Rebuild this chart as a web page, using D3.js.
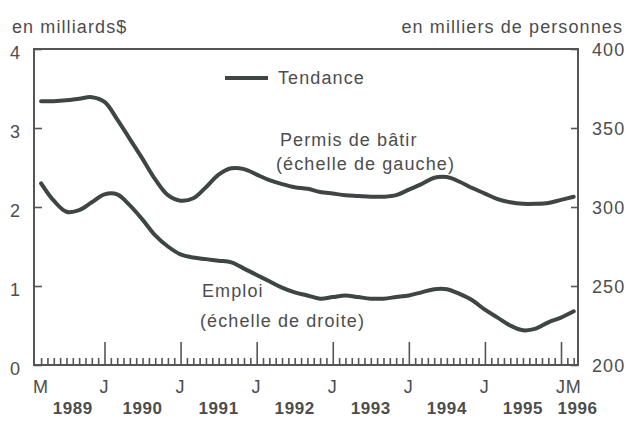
<!DOCTYPE html>
<html>
<head>
<meta charset="utf-8">
<script src="https://cdn.jsdelivr.net/npm/d3@7"></script>
<style>
  body { margin: 0; background: #fff; }
  svg { display: block; font-family: "Liberation Sans", Arial, sans-serif; }
  .lbl { fill: #4d4d4d; font-size: 18px; letter-spacing: 1.1px; }
</style>
</head>
<body>
<div id="chart"></div>
<script>
// months read every two months, March 1989 to March 1996
const months = [
    "1989-03", "1989-05", "1989-07", "1989-09", "1989-11",
    "1990-01", "1990-03", "1990-05", "1990-07", "1990-09", "1990-11",
    "1991-01", "1991-03", "1991-05", "1991-07", "1991-09", "1991-11",
    "1992-01", "1992-03", "1992-05", "1992-07", "1992-09", "1992-11",
    "1993-01", "1993-03", "1993-05", "1993-07", "1993-09", "1993-11",
    "1994-01", "1994-03", "1994-05", "1994-07", "1994-09", "1994-11",
    "1995-01", "1995-03", "1995-05", "1995-07", "1995-09", "1995-11",
    "1996-01", "1996-03"
];

// Permis de bâtir, en milliards $ (left scale)
const permis = [
    3.34, 3.34, 3.35, 3.37, 3.39,
    3.33, 3.11, 2.86, 2.61, 2.35, 2.15,
    2.08, 2.11, 2.25, 2.41, 2.49, 2.48,
    2.41, 2.34, 2.29, 2.25, 2.23, 2.19,
    2.17, 2.15, 2.14, 2.13, 2.13, 2.15,
    2.22, 2.29, 2.37, 2.38, 2.32, 2.24,
    2.17, 2.10, 2.06, 2.04, 2.04, 2.05,
    2.09, 2.13
];

// Emploi, en milliers de personnes (right scale)
const emploi = [
    315, 304, 297, 298, 303,
    308, 308, 301, 292, 282, 275,
    270, 268, 267, 266, 265, 261,
    257, 253, 249, 246, 244, 242,
    243, 244, 243, 242, 242, 243,
    244, 246, 248, 248, 245, 241,
    235, 230, 225, 222, 223, 227,
    230, 234
];

const monthLabels = [
    { m: "1989-03", t: "M" }, { m: "1990-01", t: "J" }, { m: "1991-01", t: "J" },
    { m: "1992-01", t: "J" }, { m: "1993-01", t: "J" }, { m: "1994-01", t: "J" },
    { m: "1995-01", t: "J" }, { m: "1996-01", t: "J" }, { m: "1996-03", t: "M" }
];
const yearLabels = ["1989", "1990", "1991", "1992", "1993", "1994", "1995", "1996"];
const yearPos = [7, 18, 30, 42, 54, 66, 78, 86.6];   // month index of each year label
const leftTicks = [0, 1, 2, 3, 4];
const rightTicks = [200, 250, 300, 350, 400];

const W = 628, H = 421;
const L = 34, R = 578, T = 49, B = 365;

// month index counted from January 1989 = 0
function mIdx(s) {
    const [y, m] = s.split("-").map(Number);
    return (y - 1989) * 12 + (m - 1);
}

const x = d3.scaleLinear().domain([0.88, 86.68]).range([L, R]);
const yL = d3.scaleLinear().domain([0, 4]).range([B, T]);
const yR = d3.scaleLinear().domain([200, 400]).range([B, T]);

const svg = d3.select("#chart").append("svg")
    .attr("width", W)
    .attr("height", H);

const axisColor = "#555";
const lineColor = "#3d4644";

// frame
svg.append("rect")
    .attr("x", L).attr("y", T)
    .attr("width", R - L).attr("height", B - T)
    .attr("fill", "none")
    .attr("stroke", axisColor)
    .attr("stroke-width", 2);

// bottom ticks, monthly small and January long
const allMonths = d3.range(2, 87);
const minor = allMonths.filter(i => i % 12 !== 0);
const major = allMonths.filter(i => i % 12 === 0);

function styleAxis(g) {
    g.select(".domain").remove();
    g.selectAll(".tick line").attr("stroke", axisColor).attr("stroke-width", 1.6);
}

svg.append("g")
    .attr("transform", `translate(0,${B})`)
    .call(d3.axisBottom(x).tickValues(minor).tickSize(-7).tickFormat(""))
    .call(styleAxis);

svg.append("g")
    .attr("transform", `translate(0,${B})`)
    .call(d3.axisBottom(x).tickValues(major).tickSize(-23).tickFormat(""))
    .call(styleAxis);

// month letters
svg.append("g")
    .selectAll("text")
    .data(monthLabels)
    .join("text")
    .attr("class", "lbl")
    .attr("x", d => x(mIdx(d.m)))
    .attr("y", 393)
    .attr("text-anchor", "middle")
    .text(d => d.t);

// years
svg.append("g")
    .selectAll("text")
    .data(yearLabels)
    .join("text")
    .attr("class", "lbl")
    .attr("x", (d, i) => x(yearPos[i]))
    .attr("y", 414)
    .attr("text-anchor", "middle")
    .attr("font-weight", "bold")
    .style("font-size", "17px")
    .style("letter-spacing", "0.6px")
    .text(d => d);

// left axis
const gL = svg.append("g")
    .attr("transform", `translate(${L},0)`)
    .call(d3.axisLeft(yL).tickValues(leftTicks).tickSize(-8).tickPadding(13).tickFormat(d3.format("d")))
    .call(styleAxis);
gL.selectAll(".tick text")
    .attr("class", "lbl")
    .attr("dy", "0.5em")
    .attr("font-family", null)
    .attr("font-size", null);

// right axis
const gR = svg.append("g")
    .attr("transform", `translate(${R},0)`)
    .call(d3.axisRight(yR).tickValues(rightTicks).tickSize(-7).tickPadding(14).tickFormat(d3.format("d")))
    .call(styleAxis);
gR.selectAll(".tick text")
    .attr("class", "lbl")
    .attr("dy", "0.35em")
    .attr("font-family", null)
    .attr("font-size", null);

// axis titles
svg.append("text").attr("class", "lbl")
    .attr("x", 12).attr("y", 33)
    .text("en milliards$");
svg.append("text").attr("class", "lbl")
    .attr("x", 623).attr("y", 33)
    .attr("text-anchor", "end")
    .text("en milliers de personnes");

// series
const idx = months.map(mIdx);

const linePermis = d3.line()
    .x((d, i) => x(idx[i]))
    .y(d => yL(d))
    .curve(d3.curveCatmullRom);

const lineEmploi = d3.line()
    .x((d, i) => x(idx[i]))
    .y(d => yR(d))
    .curve(d3.curveCatmullRom);

svg.append("path")
    .datum(permis)
    .attr("d", linePermis)
    .attr("fill", "none")
    .attr("stroke", lineColor)
    .attr("stroke-width", 4)
    .attr("stroke-linecap", "round");

svg.append("path")
    .datum(emploi)
    .attr("d", lineEmploi)
    .attr("fill", "none")
    .attr("stroke", lineColor)
    .attr("stroke-width", 4)
    .attr("stroke-linecap", "round");

// legend
svg.append("line")
    .attr("x1", 225).attr("x2", 268)
    .attr("y1", 78).attr("y2", 78)
    .attr("stroke", lineColor)
    .attr("stroke-width", 4);
svg.append("text").attr("class", "lbl")
    .attr("x", 278).attr("y", 84)
    .text("Tendance");

// annotations
svg.append("text").attr("class", "lbl")
    .attr("x", 280).attr("y", 146)
    .text("Permis de bâtir");
svg.append("text").attr("class", "lbl")
    .attr("x", 276).attr("y", 170)
    .text("(échelle de gauche)");
svg.append("text").attr("class", "lbl")
    .attr("x", 202).attr("y", 297)
    .text("Emploi");
svg.append("text").attr("class", "lbl")
    .attr("x", 200).attr("y", 327)
    .text("(échelle de droite)");
</script>
</body>
</html>
